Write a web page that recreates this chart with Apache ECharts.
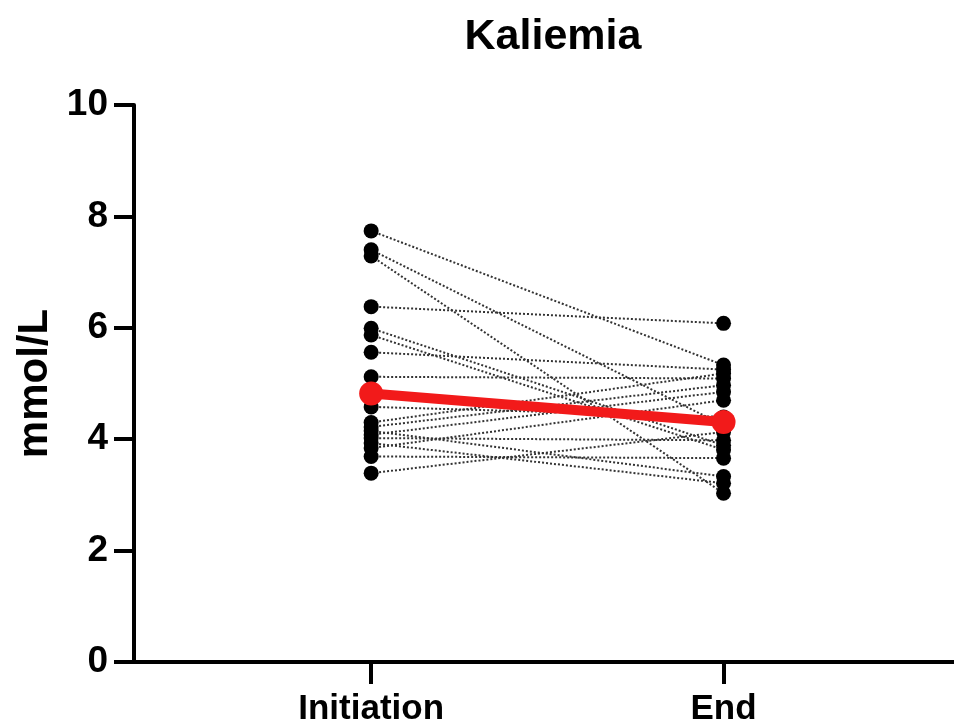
<!DOCTYPE html>
<html>
<head>
<meta charset="utf-8">
<script src="https://cdn.jsdelivr.net/npm/echarts@6/dist/echarts.min.js"></script>
<style>html,body{margin:0;padding:0;background:#fff;}#c{width:954px;height:728px;}</style>
</head>
<body>
<div id="c"></div>
<script>
var categories = ['Initiation', 'End'];
var yTicks = [0, 2, 4, 6, 8, 10];
var initiation = [7.74, 7.40, 7.29, 6.38, 5.99, 5.87, 5.56, 5.12, 4.58, 4.30, 4.22, 4.15, 4.08, 4.02, 3.93, 3.84, 3.69, 3.39];
var end        = [5.33, 4.25, 3.03, 6.08, 3.89, 3.81, 5.25, 5.09, 4.40, 5.18, 4.97, 3.33, 4.85, 3.98, 3.21, 4.70, 3.66, 4.13];
var meanLine = [4.82, 4.31];

var font = '"Liberation Sans", Arial, sans-serif';
var series = [];
for (var i = 0; i < initiation.length; i++) {
  series.push({
    type: 'line',
    data: [[0, initiation[i]], [1, end[i]]],
    symbol: 'circle',
    symbolSize: 15,
    itemStyle: { color: '#000' },
    lineStyle: { color: '#333', width: 2, type: [2, 2] },
    silent: true,
    z: 2
  });
}
series.push({
  type: 'line',
  data: meanLine.map(function (v, k) { return [k, v]; }),
  symbol: 'circle',
  symbolSize: 24,
  itemStyle: { color: '#f21a1a' },
  lineStyle: { color: '#f21a1a', width: 10 },
  silent: true,
  z: 5
});

var chart = echarts.init(document.getElementById('c'), null, { renderer: 'canvas' });
chart.setOption({
  animation: false,
  backgroundColor: '#fff',
  title: {
    text: 'Kaliemia',
    left: 548,
    textAlign: 'center',
    top: 11,
    textStyle: { fontFamily: font, fontWeight: 'bold', fontSize: 43, color: '#000' }
  },
  grid: { left: 134, right: 0, top: 105, bottom: 66, containLabel: false },
  xAxis: {
    type: 'value',
    min: -0.673,
    max: 1.654,
    splitLine: { show: false },
    axisLine: { show: true, lineStyle: { color: '#000', width: 4 } },
    axisTick: { show: true, customValues: [0, 1], length: 22, lineStyle: { color: '#000', width: 4 } },
    axisLabel: {
      customValues: [0, 1],
      formatter: function (v) { return categories[Math.round(v)] || ''; },
      margin: 30,
      fontFamily: font, fontWeight: 'bold', fontSize: 35, color: '#000'
    }
  },
  yAxis: {
    type: 'value',
    min: 0,
    max: 10,
    interval: 2,
    name: 'mmol/L',
    nameLocation: 'middle',
    nameRotate: 90,
    nameGap: 74,
    nameTextStyle: { fontFamily: font, fontWeight: 'bold', fontSize: 42, color: '#000' },
    splitLine: { show: false },
    axisLine: { show: true, onZero: false, lineStyle: { color: '#000', width: 4 } },
    axisTick: { show: true, length: 20, lineStyle: { color: '#000', width: 4 } },
    axisLabel: {
      formatter: function (v) { return yTicks.indexOf(v) >= 0 ? String(v) : ''; },
      margin: 26,
      fontFamily: font, fontWeight: 'bold', fontSize: 37, color: '#000'
    }
  },
  series: series
});
</script>
</body>
</html>
